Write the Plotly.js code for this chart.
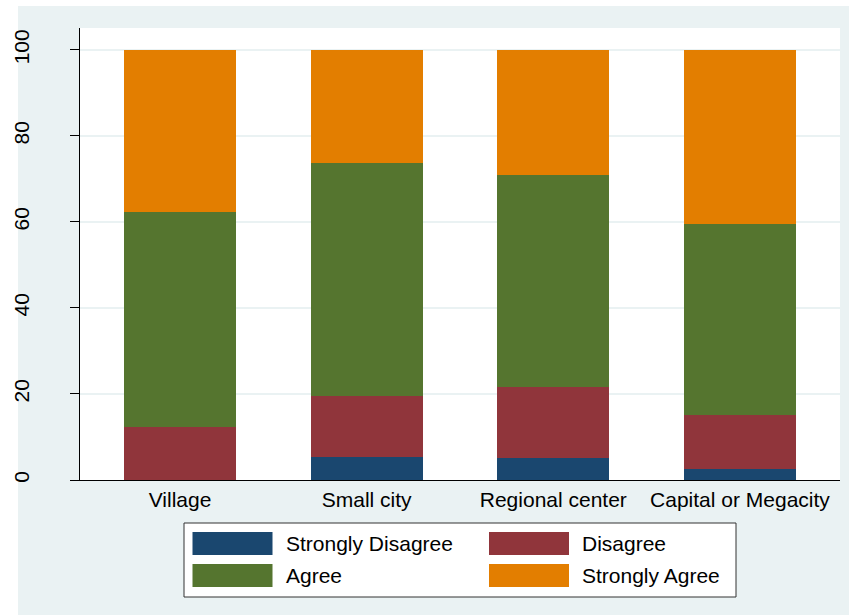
<!DOCTYPE html>
<html>
<head>
<meta charset="utf-8">
<script src="https://cdn.plot.ly/plotly-3.0.1.min.js"></script>
<style>html,body{margin:0;padding:0;background:#fff;}#chart{width:849px;height:615px;}</style>
</head>
<body>
<div id="chart"></div>
<script>
// ---- data ----
const categories = ["Village", "Small city", "Regional center", "Capital or Megacity"];
const seriesNames = ["Strongly Disagree", "Disagree", "Agree", "Strongly Agree"];
const stronglyDisagree = [0, 5.4, 5.2, 2.6];
const disagree = [12.3, 14.2, 16.4, 12.4];
const agree = [50.1, 54.0, 49.4, 44.6];
const stronglyAgree = [37.6, 26.4, 29.0, 40.4];
const yTickValues = [0, 20, 40, 60, 80, 100];
const yTickLabels = ["0", "20", "40", "60", "80", "100"];

// ---- styles ----
const colors = ["#1a476f", "#90353b", "#55752f", "#e37e00"];
const bgLight = "#eaf2f3";
const W = 849, H = 615;
const M = {l: 80, r: 9, t: 28, b: 135};
const PW = W - M.l - M.r, PH = H - M.t - M.b;
const px = x => (x - M.l) / PW;
const py = y => (H - M.b - y) / PH;
const FONT = "Liberation Sans, Arial, sans-serif";

const seriesValues = [stronglyDisagree, disagree, agree, stronglyAgree];
const traces = seriesNames.map((n, i) => ({
  type: "bar", name: n, x: categories, y: seriesValues[i],
  marker: {color: colors[i], line: {width: 0}}, width: 0.6, showlegend: false,
  hoverinfo: "x+y+name"
}));

const shapes = [
  {type: "rect", xref: "paper", yref: "paper", x0: px(0), x1: px(18), y0: py(H), y1: py(0), fillcolor: "#ffffff", line: {width: 0}, layer: "below"},
  {type: "rect", xref: "paper", yref: "paper", x0: px(0), x1: px(W), y0: py(6), y1: py(0), fillcolor: "#ffffff", line: {width: 0}, layer: "below"},
  {type: "rect", xref: "paper", yref: "paper", x0: px(184), x1: px(736), y0: py(597), y1: py(523), fillcolor: "#ffffff", line: {width: 1, color: "#333333"}, layer: "below"}
];
const annotations = [];
const colX = [192.5, 489];
const rowY = [532, 564];
seriesNames.forEach((n, i) => {
  const c = i % 2, r = Math.floor(i / 2);
  shapes.push({type: "rect", xref: "paper", yref: "paper",
    x0: px(colX[c]), x1: px(colX[c] + 80), y0: py(rowY[r] + 23), y1: py(rowY[r]),
    fillcolor: colors[i], line: {width: 0}, layer: "below"});
  annotations.push({xref: "paper", yref: "paper", x: px(colX[c] + 91), y: py(rowY[r] + 11.5),
    xanchor: "left", yanchor: "middle", text: n, showarrow: false,
    font: {family: FONT, size: 21, color: "#000"}});
});

const layout = {
  width: W, height: H,
  margin: M,
  paper_bgcolor: bgLight, plot_bgcolor: "#ffffff",
  barmode: "stack",
  font: {family: FONT, size: 21, color: "#000"},
  xaxis: {
    type: "category", range: [-0.536, 3.536], showgrid: false, zeroline: false,
    showline: true, linecolor: "#000", linewidth: 1, ticks: "", ticklabelstandoff: 1,
    tickfont: {family: FONT, size: 21, color: "#000"}
  },
  yaxis: {
    range: [0, 105.1], tickvals: yTickValues, ticktext: yTickLabels, tickangle: -90,
    showgrid: true, gridcolor: bgLight, gridwidth: 2, zeroline: false,
    showline: true, linecolor: "#000", linewidth: 1, ticks: "outside", ticklen: 9, tickcolor: "#000",
    ticklabelstandoff: 33,
    tickfont: {family: FONT, size: 21, color: "#000"}
  },
  shapes: shapes,
  annotations: annotations,
  showlegend: false
};
Plotly.newPlot("chart", traces, layout, {displayModeBar: false, staticPlot: true});
</script>
</body>
</html>
